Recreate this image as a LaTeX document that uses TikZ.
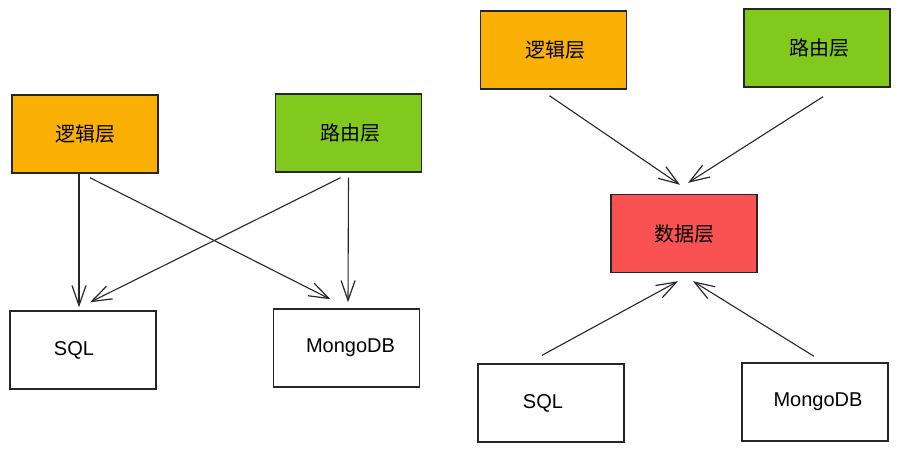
\documentclass[tikz,border=0pt]{standalone}
\usepackage{fontspec}
\setmainfont{Liberation Sans}
\newfontfamily\cjk{Noto Sans CJK SC}
\usepackage{xcolor}
\usepackage{tikz}
\usetikzlibrary{arrows.meta, positioning}

\definecolor{logicorange}{HTML}{FAB005}
\definecolor{routegreen}{HTML}{82C91E}
\definecolor{datared}{HTML}{FA5252}

\begin{document}
\begin{tikzpicture}[
    x=0.5pt, y=-0.5pt,
    box/.style={rectangle, draw=black!85, line width=0.7pt, minimum width=73pt, minimum height=39pt, align=center, fill=white, font=\fontsize{10}{12}\selectfont},
    arrow/.style={-{Straight Barb[length=10pt, width=7pt, line width=0.6pt]}, line width=0.55pt, black!85}
]
\useasboundingbox (0,0) rectangle (900,452);

% Left side - direct access
\node[box, fill=logicorange] (logicL) at (85,134) {\cjk 逻辑层};
\node[box, fill=routegreen] (routeL) at (348.5,133) {\hspace*{2pt}\cjk 路由层};
\node[box] (sqlL) at (83,350) {\hspace*{-9pt}SQL};
\node[box] (mongoL) at (346.5,348) {\hspace*{4pt}MongoDB};

% Right side - via data layer
\node[box, fill=logicorange] (logicR) at (553.5,50) {\hspace*{2pt}\cjk 逻辑层};
\node[box, fill=routegreen] (routeR) at (817,48) {\hspace*{2pt}\cjk 路由层};
\node[box, fill=datared] (dataR) at (684,233.5) {\cjk 数据层};
\node[box] (sqlR) at (551,403) {\hspace*{-8pt}SQL};
\node[box] (mongoR) at (815,402) {\hspace*{3pt}MongoDB};

% Arrows left
\draw[arrow] ([xshift=-3pt]logicL.south) -- ([xshift=-2pt, yshift=1.5pt]sqlL.north);
\draw[arrow] ([xshift=2.5pt, yshift=-2pt]logicL.south) -- ([xshift=-8pt, yshift=4.5pt]mongoL.north);
\draw[arrow] ([xshift=-4pt, yshift=-2.5pt]routeL.south) -- ([xshift=3.5pt, yshift=4pt]sqlL.north);
\draw[arrow] ([yshift=-2.5pt]routeL.south) -- ([xshift=0.75pt, yshift=3pt]mongoL.north);

% Arrows right
\draw[arrow] ([xshift=-2pt, yshift=-3pt]logicR.south) -- ([xshift=-2pt, yshift=4.5pt]dataR.north);
\draw[arrow] ([xshift=3pt, yshift=-4.5pt]routeR.south) -- ([xshift=2pt, yshift=5.5pt]dataR.north);
\draw[arrow] ([xshift=-4.5pt, yshift=4pt]sqlR.north) -- ([xshift=-3pt, yshift=-4pt]dataR.south);
\draw[arrow] ([xshift=-0.5pt, yshift=3pt]mongoR.north) -- ([xshift=4.5pt, yshift=-4pt]dataR.south);

\end{tikzpicture}
\end{document}
